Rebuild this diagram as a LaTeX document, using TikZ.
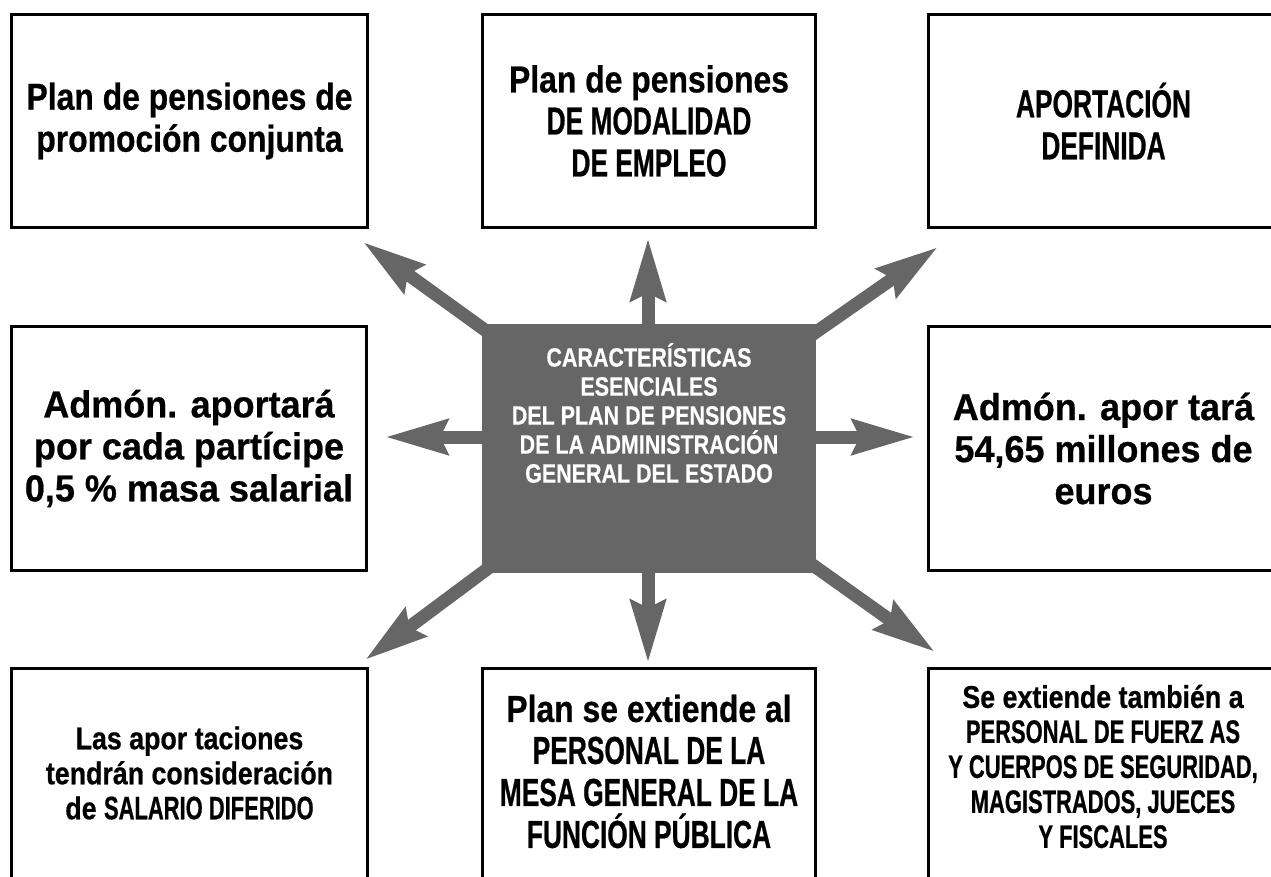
\documentclass[tikz,border=0pt]{standalone}
\usepackage{fontspec}
\setmainfont{Liberation Sans}
\newfontfamily\lcf{Liberation Sans}[FakeStretch=0.85,FakeBold=0.6]
\newfontfamily\ucfbase{Liberation Sans}[FakeStretch=0.675,FakeBold=0.6]
\newfontfamily\mdf{Liberation Sans}[FakeStretch=0.96,FakeBold=0.6]
\newfontfamily\ctf{Liberation Sans}[FakeStretch=0.81,FakeBold=0.4]
\newcommand\UCb[1]{{\fontsize{39}{42}\selectfont\ucfbase #1}}
\newcommand\UCs[1]{{\fontsize{32.5}{35}\selectfont\ucfbase #1}}
\usetikzlibrary{arrows.meta}
\definecolor{agray}{HTML}{666666}
\pgfdeclarelayer{bg}
\pgfsetlayers{bg,main}
\begin{document}
\begin{tikzpicture}[x=1pt,y=-1pt,
  box/.style={draw=black, line width=3pt, fill=white, inner sep=0pt, align=center},
  big/.style={font=\fontsize{37.5}{42}\selectfont\bfseries\lcf},
  bigcaps/.style={font=\fontsize{39}{42}\selectfont\bfseries\ucfbase},
  mid/.style={font=\fontsize{37.5}{42}\selectfont\bfseries\mdf},
  small/.style={font=\fontsize{31.5}{35}\selectfont\bfseries\lcf},
  txt/.style={align=center, inner sep=0pt},
  arr/.style={draw=agray, line width=13pt, -{Stealth[length=62pt,width=34pt,inset=7pt]}}]
\path[use as bounding box] (0,0) rectangle (1271,877);
\clip (0,0) rectangle (1271,877);

% top row
\node[box, big, minimum width=356pt, minimum height=213pt] (tl) at (189.5,121)
  {Plan de pensiones de\\promoción conjunta};
\node[box, big, minimum width=333pt, minimum height=213pt] (tm) at (649,121)
  {Plan de pensiones\\\UCb{DE MODALIDAD}\\\UCb{DE EMPLEO}};
\node[box, bigcaps, minimum width=350pt, minimum height=213pt] (tr) at (1103.5,121)
  {APORTACIÓN\\DEFINIDA};

% middle row
\node[box, mid, minimum width=355pt, minimum height=244pt] (ml) at (189,448.5)
  {Admón. aportará\\por cada partícipe\\0,5 \% masa salarial};
\node[box, mid, minimum width=350pt, minimum height=244pt] (mr) at (1103.5,448.5)
  {Admón. apor tará\\54,65 millones de\\euros};

% bottom row
\node[box, minimum width=356pt, minimum height=213pt] (bl) at (189.5,775) {};
\node[box, minimum width=333pt, minimum height=213pt] (bm) at (649,775) {};
\node[box, minimum width=350pt, minimum height=213pt] (br) at (1103.5,775) {};
\node[txt, small] (blt) at (189.5,773)
  {Las apor taciones\\tendrán consideración\\de \UCs{SALARIO DIFERIDO}};
\node[txt, big] (bmt) at (649,771.5)
  {Plan se extiende al\\\UCb{PERSONAL DE LA}\\\UCb{MESA GENERAL DE LA}\\\UCb{FUNCIÓN PÚBLICA}};
\node[txt, small] (brt) at (1103,766.5)
  {Se extiende también a\\\UCs{PERSONAL DE FUERZ AS}\\\UCs{Y CUERPOS DE SEGURIDAD,}\\\UCs{MAGISTRADOS, JUECES}\\\UCs{Y FISCALES}};

% center
\node[fill=agray, minimum width=334pt, minimum height=249pt, inner sep=0pt] (c) at (649,448.5) {};
\node[txt, text=white, font=\fontsize{26.5}{29}\selectfont\bfseries\ctf] (ct) at (649,413)
  {CARACTERÍSTICAS\\ESENCIALES\\DEL PLAN DE PENSIONES\\DE LA ADMINISTRACIÓN\\GENERAL DEL ESTADO};

% arrow tips
\coordinate (tN) at (648,238);
\coordinate (tS) at (648,663);
\coordinate (tE) at (915,437);
\coordinate (tW) at (385,437);
\coordinate (tNE) at (938,247);
\coordinate (tNW) at (363,242);
\coordinate (tSE) at (935,652);
\coordinate (tSW) at (365,660);

\begin{pgfonlayer}{bg}
\fill[white] (0,0) rectangle (1271,877);
\draw[arr] (tN |- c.center) -- (tN);
\draw[arr] (tS |- c.center) -- (tS);
\draw[arr] (c.center |- tE) -- (tE);
\draw[arr] (c.center |- tW) -- (tW);
\draw[arr] (c.center) -- (tNE);
\draw[arr] (c.center) -- (tNW);
\draw[arr] (c.center) -- (tSE);
\draw[arr] (c.center) -- (tSW);
\end{pgfonlayer}
\end{tikzpicture}
\end{document}
